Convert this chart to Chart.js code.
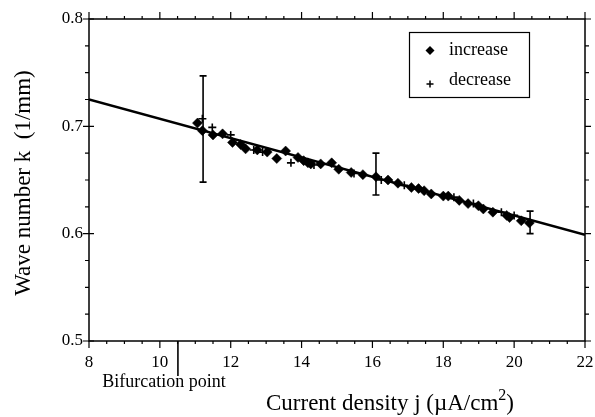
<!DOCTYPE html>
<html>
<head>
<meta charset="utf-8">
<script src="https://cdn.jsdelivr.net/npm/chart.js@4"></script>
<style>
  body { margin: 0; background: #fff; }
  #wrap { width: 595px; height: 417px; position: relative; }
</style>
</head>
<body>
<div id="wrap"><canvas id="graf"></canvas></div>
<script>
// data
let incX = [11.06, 11.2, 11.5, 11.77, 12.05, 12.28, 12.42, 12.75, 13.03, 13.3, 13.55, 13.9, 14.06, 14.18, 14.26,
            14.54, 14.85, 15.05, 15.4, 15.73, 16.1, 16.44, 16.72, 17.1, 17.3, 17.46, 17.66, 18.0, 18.14,
            18.45, 18.7, 18.99, 19.13, 19.4, 19.79, 19.87, 20.2, 20.43];
let incK = [0.703, 0.696, 0.692, 0.693, 0.685, 0.683, 0.679, 0.678, 0.676, 0.670, 0.677, 0.671, 0.668, 0.666, 0.665,
            0.665, 0.666, 0.660, 0.657, 0.655, 0.653, 0.650, 0.647, 0.643, 0.642, 0.640, 0.637, 0.635, 0.635,
            0.631, 0.628, 0.626, 0.623, 0.620, 0.617, 0.615, 0.612, 0.610];
let decX = [11.2, 11.48, 12.0, 12.65, 12.9, 13.7, 14.35, 15.48, 16.25, 16.9, 17.32, 18.3, 18.85, 19.64, 20.0];
let decK = [0.707, 0.699, 0.692, 0.678, 0.676, 0.666, 0.664, 0.656, 0.650, 0.645, 0.642, 0.634, 0.628, 0.620, 0.617];
let fitX = [8, 22];
let fitK = [0.725, 0.599];
let errX = [11.22, 16.1, 20.45];
let errLow = [0.648, 0.636, 0.600];
let errHigh = [0.747, 0.675, 0.621];
let bifurX = 10.51;
let xTicks = [8, 10, 12, 14, 16, 18, 20, 22];
let yTicks = [0.5, 0.6, 0.7, 0.8];

let serif = '"Liberation Serif", "DejaVu Serif", serif';

function pts(xs, ys){
  return xs.map((x, i) => ({x: x, y: ys[i]}));
}

// frame, ticks, error bars, legend and titles
let extras = {
  id: 'extras',
  afterDatasetsDraw(chart){
    let ctx = chart.ctx;
    let a = chart.chartArea;
    let xs = chart.scales.x, ys = chart.scales.y;
    ctx.save();
    ctx.strokeStyle = '#000';
    ctx.fillStyle = '#000';

    // error bars
    ctx.lineWidth = 1.6;
    errX.forEach((x, i) => {
      let px = xs.getPixelForValue(x);
      let lo = ys.getPixelForValue(errLow[i]);
      let hi = ys.getPixelForValue(errHigh[i]);
      ctx.beginPath();
      ctx.moveTo(px, lo); ctx.lineTo(px, hi);
      ctx.moveTo(px - 3.5, lo); ctx.lineTo(px + 3.5, lo);
      ctx.moveTo(px - 3.5, hi); ctx.lineTo(px + 3.5, hi);
      ctx.stroke();
    });

    // frame
    ctx.lineWidth = 1.5;
    ctx.strokeRect(a.left, a.top, a.right - a.left, a.bottom - a.top);

    // ticks (outside), longer on majors
    ctx.lineWidth = 1.2;
    ctx.beginPath();
    for (let v = 8; v <= 22.001; v += 0.5){
      let px = xs.getPixelForValue(v);
      let major = Math.abs(v - Math.round(v / 2) * 2) < 0.01;
      let len = major ? 7 : 3;
      ctx.moveTo(px, a.bottom); ctx.lineTo(px, a.bottom + len);
      ctx.moveTo(px, a.top); ctx.lineTo(px, a.top - len);
    }
    for (let v = 0.5; v <= 0.8001; v += 0.025){
      let py = ys.getPixelForValue(v);
      let major = Math.abs(v * 10 - Math.round(v * 10)) < 0.01;
      let len = major ? 6 : 4;
      ctx.moveTo(a.left, py); ctx.lineTo(a.left - len, py);
      ctx.moveTo(a.right, py); ctx.lineTo(a.right + len, py);
      if (major){
        ctx.moveTo(a.left, py); ctx.lineTo(a.left + 5, py);
      }
    }
    ctx.stroke();

    // bifurcation marker
    let bx = xs.getPixelForValue(bifurX);
    ctx.lineWidth = 1.6;
    ctx.beginPath();
    ctx.moveTo(bx, a.bottom); ctx.lineTo(bx, a.bottom + 35);
    ctx.stroke();
    ctx.font = '18px ' + serif;
    ctx.textAlign = 'center';
    ctx.textBaseline = 'middle';
    ctx.fillText('Bifurcation point', 164, 382);

    // x title
    ctx.font = '23px ' + serif;
    ctx.textAlign = 'left';
    let t1 = 'Current density j (\u00b5A/cm';
    let w1 = ctx.measureText(t1).width;
    ctx.font = '16px ' + serif;
    let w2 = ctx.measureText('2').width;
    ctx.font = '23px ' + serif;
    let w3 = ctx.measureText(')').width;
    let sx = 390 - (w1 + w2 + w3) / 2;
    ctx.fillText(t1, sx, 404);
    ctx.font = '16px ' + serif;
    ctx.fillText('2', sx + w1, 396);
    ctx.font = '23px ' + serif;
    ctx.fillText(')', sx + w1 + w2, 404);

    // y title
    ctx.save();
    ctx.translate(24, 183);
    ctx.rotate(-Math.PI / 2);
    ctx.textAlign = 'center';
    ctx.fillText('Wave number k  (1/mm)', 0, 0);
    ctx.restore();

    // legend box
    ctx.lineWidth = 1.2;
    ctx.strokeRect(409.5, 32.5, 120, 65);
    ctx.font = '18px ' + serif;
    ctx.textAlign = 'left';
    ctx.fillText('increase', 449, 50);
    ctx.fillText('decrease', 449, 80);
    ctx.beginPath();
    ctx.moveTo(430, 46); ctx.lineTo(434.5, 50.5); ctx.lineTo(430, 55); ctx.lineTo(425.5, 50.5);
    ctx.closePath(); ctx.fill();
    ctx.lineWidth = 1.5;
    ctx.beginPath();
    ctx.moveTo(426.5, 84); ctx.lineTo(433.5, 84);
    ctx.moveTo(430, 80.5); ctx.lineTo(430, 87.5);
    ctx.stroke();

    ctx.restore();
  }
};

function create_graph(canvas){
  new Chart(canvas, {
    type: 'scatter',
    data: {
      datasets: [
        {
          label: 'fit',
          data: pts(fitX, fitK),
          showLine: true,
          borderColor: '#000',
          borderWidth: 2.5,
          pointRadius: 0,
          order: 3,
        },
        {
          label: 'increase',
          data: pts(incX, incK),
          pointStyle: 'rectRot',
          pointRadius: 5,
          backgroundColor: '#000',
          borderColor: '#000',
          borderWidth: 0.5,
          order: 1,
        },
        {
          label: 'decrease',
          data: pts(decX, decK),
          pointStyle: 'cross',
          pointRadius: 4,
          borderColor: '#000',
          borderWidth: 1.6,
          order: 2,
        },
      ]
    },
    options: {
      responsive: false,
      animation: false,
      layout: { padding: { top: 19, right: 10, left: 0, bottom: 0 } },
      plugins: {
        legend: { display: false },
        tooltip: { enabled: false },
      },
      scales: {
        x: {
          type: 'linear',
          min: 8, max: 22,
          afterBuildTicks: (s) => { s.ticks = xTicks.map(v => ({value: v})); },
          afterFit: (s) => { s.height = 76; s.paddingLeft = 0; s.paddingRight = 0; },
          border: { display: false },
          grid: { display: false, drawTicks: false },
          ticks: {
            color: '#000',
            padding: 11,
            maxRotation: 0,
            font: { family: serif, size: 17 },
            callback: (v) => String(v),
          },
        },
        y: {
          min: 0.5, max: 0.8,
          afterBuildTicks: (s) => { s.ticks = yTicks.map(v => ({value: v})); },
          afterFit: (s) => { s.width = 89; s.paddingTop = 0; s.paddingBottom = 0; },
          border: { display: false },
          grid: { display: false, drawTicks: false },
          ticks: {
            color: '#000',
            padding: 6,
            font: { family: serif, size: 17 },
            callback: (v) => v.toFixed(1),
          },
        },
      }
    },
    plugins: [extras]
  });
}

let canvas = document.getElementById('graf');
canvas.width = 595;
canvas.height = 417;
canvas.style.width = '595px';
canvas.style.height = '417px';
create_graph(canvas);
</script>
</body>
</html>
